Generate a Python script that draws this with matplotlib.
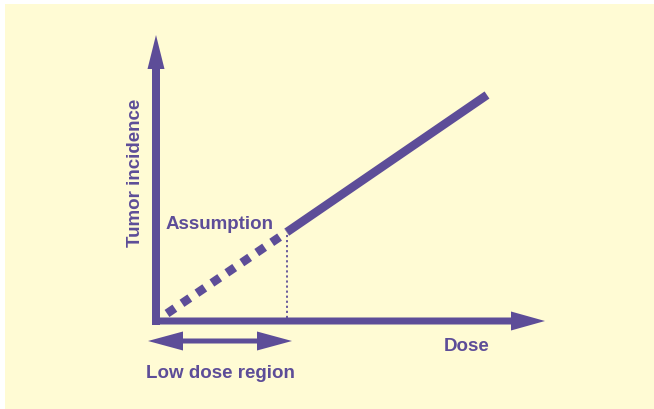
import matplotlib
matplotlib.use("Agg")
import matplotlib.pyplot as plt
from matplotlib.patches import FancyArrow, Rectangle

# Data (dose, tumor incidence) in arbitrary units
dose_observed = [131, 331]
incidence_observed = [89, 226]
dose_assumed = [11, 131]
incidence_assumed = [7.5, 89]
threshold_dose = 131

x_label = "Dose"
y_label = "Tumor incidence"
assumption_label = "Assumption"
region_label = "Low dose region"

purple = "#5D4D98"
bg = "#FFFBD4"

plt.rcParams['font.family'] = ['Liberation Sans', 'DejaVu Sans']

fig = plt.figure(figsize=(6.54, 4.10), dpi=100)
fig.patch.set_facecolor("white")
ax = fig.add_axes([0, 0, 1, 1])
ax.set_xlim(-156, 498)
ax.set_ylim(-88, 322)
ax.set_aspect('auto')
ax.axis('off')

# background panel
ax.add_patch(Rectangle((-151, -88), 660, 405, facecolor=bg, edgecolor='none', zorder=0))

# axes arrows
ax.add_patch(FancyArrow(0, -4, 0, 290, width=8, head_width=17, head_length=34,
                        length_includes_head=True, color=purple, lw=0, zorder=3))
ax.add_patch(FancyArrow(-4, 0, 393, 0, width=7, head_width=19, head_length=34,
                        length_includes_head=True, color=purple, lw=0, zorder=3))

# observed (solid) and assumed (dashed) lines
ax.plot(dose_observed, incidence_observed, color=purple, lw=6.2, solid_capstyle='butt', zorder=4)
ax.plot(dose_assumed, incidence_assumed, color=purple, lw=6.2, dashes=(1.1, 1.0),
        dash_capstyle='butt', zorder=4)

# dotted drop line
ax.plot([threshold_dose, threshold_dose], [3, incidence_assumed[-1]], color=purple,
        lw=1.3, linestyle=(0, (1.2, 1.6)), zorder=2)

# low dose region double arrow
mid = (-8 + 136) / 2
for end in (-8, 136):
    ax.add_patch(FancyArrow(mid, -20, end - mid, 0, width=5, head_width=19, head_length=35,
                            length_includes_head=True, color=purple, lw=0, zorder=3))

fs = 13.5
ax.text(-21, 149, y_label, rotation=90, ha='center', va='center', color=purple,
        fontsize=fs, fontweight='bold')
ax.text(10, 97, assumption_label, ha='left', va='center', color=purple,
        fontsize=fs, fontweight='bold')
ax.text(311, -25, x_label, ha='center', va='center', color=purple,
        fontsize=fs, fontweight='bold')
ax.text(64, -52, region_label, ha='center', va='center', color=purple,
        fontsize=fs, fontweight='bold')

fig.savefig("out.png", dpi=100, facecolor=fig.get_facecolor())
